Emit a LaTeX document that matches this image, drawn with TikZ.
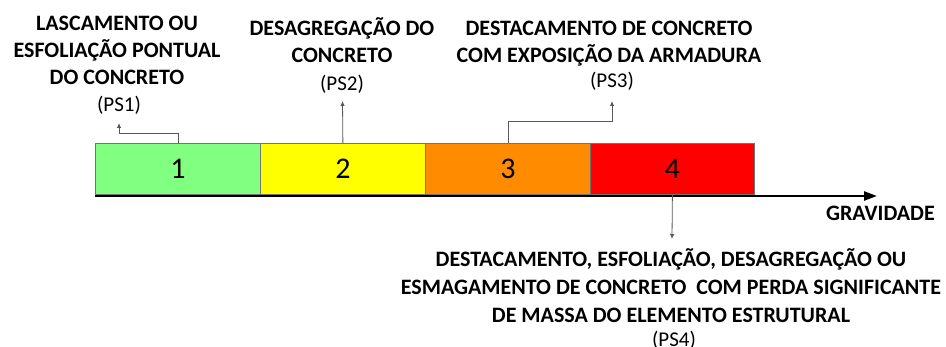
\documentclass[tikz,border=0pt]{standalone}
\usepackage{fontspec}
\setmainfont{Carlito}
\usetikzlibrary{arrows.meta}
\definecolor{cgreen}{RGB}{128,255,128}
\definecolor{cyellow}{RGB}{255,255,0}
\definecolor{corange}{RGB}{255,140,0}
\definecolor{cred}{RGB}{255,0,0}
\begin{document}
\begin{tikzpicture}[x=1pt,y=-1pt,
  seg/.style={draw=black!55, line width=0.8pt, minimum width=165pt, minimum height=51pt, inner sep=0pt, anchor=north west, font=\fontsize{30}{30}\selectfont},
  lbl/.style={align=center, font=\bfseries\fontsize{22}{27}\selectfont, inner sep=0pt, anchor=base},
  ps/.style={font=\fontsize{21}{21}\selectfont, inner sep=0pt, anchor=base},
  conn/.style={draw=black!65, line width=0.8pt, -{Latex[length=5pt,width=4.5pt]}}]
\useasboundingbox (0,0) rectangle (946,347);
\node[seg, fill=cgreen] (b1) at (95,143) {1};
\node[seg, fill=cyellow] (b2) at (260,143) {2};
\node[seg, fill=corange] (b3) at (425,143) {3};
\node[seg, fill=cred, minimum width=164pt] (b4) at (590,143) {4};
\coordinate (ax0) at (95,196);
\coordinate (ax1) at (877,196);
\draw[line width=2.5pt, -{Triangle[length=13pt,width=9pt]}] (ax0) -- (ax1);
\node[lbl, anchor=base east] (grav) at (935,221) {GRAVIDADE};
\node[lbl] (l1) at (117,85) {LASCAMENTO OU\\ESFOLIAÇÃO PONTUAL\\DO CONCRETO};
\node[ps] (p1) at (119,112) {(PS1)};
\node[lbl] (l2) at (342,63) {DESAGREGAÇÃO DO\\CONCRETO};
\node[ps] (p2) at (342,91) {(PS2)};
\node[lbl] (l3) at (609,62.7) {DESTACAMENTO DE CONCRETO\\COM EXPOSIÇÃO DA ARMADURA};
\node[ps] (p3) at (612,88) {(PS3)};
\node[lbl, font=\bfseries\fontsize{22}{28}\selectfont] (l4) at (671,323) {DESTACAMENTO, ESFOLIAÇÃO, DESAGREGAÇÃO OU\\ESMAGAMENTO DE CONCRETO\ \ COM PERDA SIGNIFICANTE\\DE MASSA DO ELEMENTO ESTRUTURAL};
\node[ps] (p4) at (674,347) {(PS4)};
\coordinate (t1) at (119,123);
\coordinate (t2) at (342.5,101);
\coordinate (t3) at (612,101);
\coordinate (t4) at (672,239);
\draw[conn] (b1.north) -- ++(0,-10) -| (t1);
\draw[conn] (b2.north) -- (t2);
\draw[conn] (b3.north) -- ++(0,-22) -| (t3);
\draw[conn] (b4.south) -- (t4);
\end{tikzpicture}
\end{document}
